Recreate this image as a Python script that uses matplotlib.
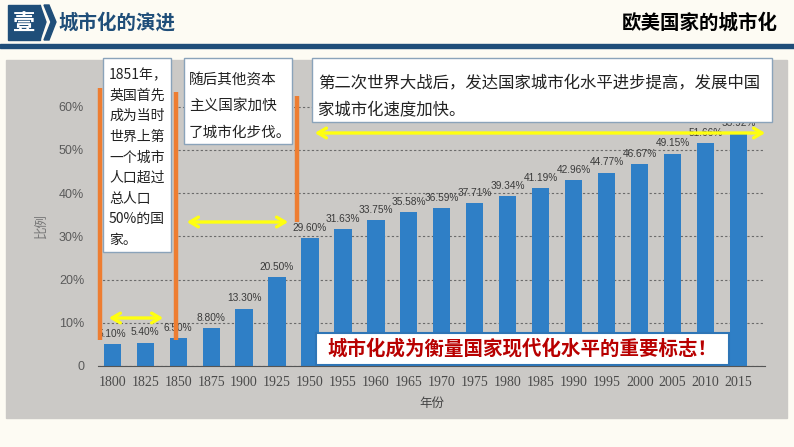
import matplotlib
matplotlib.use("Agg")
import matplotlib.pyplot as plt
from matplotlib.patches import Rectangle, Polygon

plt.rcParams['font.family'] = ['Noto Sans CJK SC', 'DejaVu Sans']

# data
years = ['1800', '1825', '1850', '1875', '1900', '1925', '1950', '1955', '1960', '1965',
         '1970', '1975', '1980', '1985', '1990', '1995', '2000', '2005', '2010', '2015']
rates = [5.10, 5.40, 6.50, 8.80, 13.30, 20.50, 29.60, 31.63, 33.75, 35.58,
         36.59, 37.71, 39.34, 41.19, 42.96, 44.77, 46.67, 49.15, 51.66, 53.92]
yticks = [0, 10, 20, 30, 40, 50, 60]
ytick_labels = ['0', '10%', '20%', '30%', '40%', '50%', '60%']

W, H = 794, 447
fig = plt.figure(figsize=(W / 100, H / 100), dpi=100)
fig.patch.set_facecolor('#fdfbf3')

# background layer (slide header + photo area)
bg = fig.add_axes([0, 0, 1, 1], zorder=0)
bg.set_xlim(0, W)
bg.set_ylim(H, 0)
bg.axis('off')
bg.add_patch(Rectangle((6, 60), 781, 358, color='#cbc9c6'))
bg.add_patch(Rectangle((0, 44), W, 4, color='#1f4e79'))
bg.add_patch(Rectangle((8, 5), 32, 35, color='#1f4e79'))
bg.add_patch(Polygon([[40, 5], [46, 22], [40, 40]], closed=True, color='#1f4e79'))
bg.add_patch(Polygon([[44, 5], [49, 5], [56, 22], [49, 40], [44, 40], [51, 22]],
                     closed=True, color='#1f4e79'))
bg.text(24, 23, '壹', color='white', fontsize=16, fontweight='bold', ha='center', va='center')
bg.text(58, 23, '城市化的演进', color='#1f4e79', fontsize=14, fontweight='bold', va='center')
bg.text(778, 23, '欧美国家的城市化', color='black', fontsize=14, fontweight='bold',
        va='center', ha='right')

# the bar chart
ax = fig.add_axes([98 / W, (H - 366) / H, 667 / W, 65 * 4.32 / H], zorder=1)
ax.patch.set_alpha(0)
x = range(len(years))
ax.bar(x, rates, width=0.52, color='#2f7fc6', zorder=2)
for i, v in enumerate(rates):
    ax.text(i, v + 1.2, '%.2f%%' % v, ha='center', va='bottom', fontsize=7.3,
            color='#3a3a3a', family='Liberation Sans')
ax.set_xlim(-0.43, 19.8)
ax.set_ylim(0, 65)
ax.set_yticks(yticks)
ax.set_yticklabels(ytick_labels, fontsize=9, color='#5a5a5a', family='Liberation Sans')
ax.set_xticks(list(x))
ax.set_xticklabels(years, fontsize=10, color='#4a4a4a', family='Liberation Serif')
ax.tick_params(axis='y', length=0, pad=10)
ax.tick_params(axis='x', length=0, pad=7)
ax.yaxis.grid(True, linestyle=(0, (2, 2)), color='#6a6a6a', linewidth=0.8, zorder=0)
for s in ['top', 'right', 'left']:
    ax.spines[s].set_visible(False)
ax.spines['bottom'].set_color('#555555')
ax.set_xlabel('年份', fontsize=9, color='#444444', labelpad=6)
ax.set_ylabel('比例', fontsize=9, color='#777777', labelpad=8)

# annotations layer
ov = fig.add_axes([0, 0, 1, 1], zorder=3)
ov.patch.set_alpha(0)
ov.set_xlim(0, W)
ov.set_ylim(H, 0)
ov.axis('off')

orange = '#ee7d31'
ov.plot([100, 100], [88, 340], color=orange, lw=3.2, solid_capstyle='butt')
ov.plot([176, 176], [92, 340], color=orange, lw=3.2, solid_capstyle='butt')
ov.plot([297, 297], [96, 222], color=orange, lw=3.2, solid_capstyle='butt')

for x0, x1, yy in [(106, 166, 318), (184, 291, 222), (312, 768, 133)]:
    ov.annotate('', xy=(x1, yy), xytext=(x0, yy),
                arrowprops=dict(arrowstyle='<->,head_length=0.6,head_width=0.35',
                                color='#ffff10', lw=2.4))

box_edge = '#8aa3ba'
ov.add_patch(Rectangle((103, 58), 68, 194, facecolor='white', edgecolor=box_edge, lw=1))
lines1 = ['1851年，', '英国首先', '成为当时', '世界上第', '一个城市',
          '人口超过', '总人口', '50%的国', '家。']
for k, t in enumerate(lines1):
    ov.text(109, 75 + k * 20.6, t, fontsize=10, color='#222222', va='center')

ov.add_patch(Rectangle((184, 58), 108, 86, facecolor='white', edgecolor=box_edge, lw=1))
lines2 = ['随后其他资本', '主义国家加快', '了城市化步伐。']
for k, t in enumerate(lines2):
    ov.text(189, 80 + k * 26.5, t, fontsize=10.5, color='#222222', va='center')

ov.add_patch(Rectangle((312, 58), 460, 64, facecolor='white', edgecolor=box_edge, lw=1))
lines3 = ['第二次世界大战后，发达国家城市化水平进步提高，发展中国', '家城市化速度加快。']
for k, t in enumerate(lines3):
    ov.text(318, 83 + k * 27, t, fontsize=11.8, color='#222222', va='center')

ov.add_patch(Rectangle((316, 333), 413, 32, facecolor='white', edgecolor='#2e75b6', lw=1.5))
ov.text(522, 349, '城市化成为衡量国家现代化水平的重要标志！', fontsize=14,
        fontweight='bold', color='#b80000', ha='center', va='center')

fig.savefig('out.png', dpi=100, facecolor=fig.get_facecolor())
